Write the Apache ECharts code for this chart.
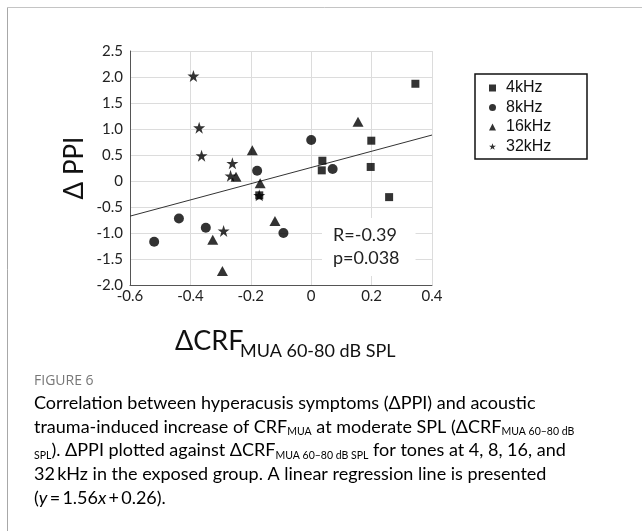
<!DOCTYPE html>
<html>
<head>
<meta charset="utf-8">
<script src="https://cdn.jsdelivr.net/npm/echarts@6/dist/echarts.min.js"></script>
<style>
html,body{margin:0;padding:0;background:#fff;}
#chart{width:642px;height:531px;}
</style>
</head>
<body>
<div id="chart"></div>
<script>
// ---- data ----
const seriesNames = ['4kHz', '8kHz', '16kHz', '32kHz'];
const data4k = [[0.345, 1.87], [0.199, 0.775], [0.037, 0.39], [0.035, 0.205], [0.197, 0.27], [0.258, -0.31], [-0.172, -0.276]];
const data8k = [[0.0, 0.79], [-0.179, 0.198], [0.071, 0.23], [-0.438, -0.72], [-0.349, -0.90], [-0.52, -1.167], [-0.092, -1.0]];
const data16k = [[0.155, 1.14], [-0.195, 0.59], [-0.249, 0.083], [-0.169, -0.045], [-0.326, -1.13], [-0.294, -1.73], [-0.12, -0.77]];
const data32k = [[-0.39, 2.02], [-0.371, 1.025], [-0.363, 0.487], [-0.261, 0.34], [-0.267, 0.10], [-0.29, -0.96], [-0.172, -0.276]];
const regression = { slope: 1.56, intercept: 0.26 };
const xTickLabels = ['-0.6', '-0.4', '-0.2', '0', '0.2', '0.4'];
const yTickLabels = ['-2.0', '-1.5', '-1.0', '-0.5', '0', '0.5', '1.0', '1.5', '2.0', '2.5'];
const statsText = ['R=-0.39', 'p=0.038'];

const xMin = -0.6, xMax = 0.4, xStep = 0.2;
const yMin = -2.0, yMax = 2.5, yStep = 0.5;

const starPath = 'path://M50,0 L61.8,35.1 L98.9,35.1 L69,56.9 L80.2,91.9 L50,70.2 L19.8,91.9 L31,56.9 L1.1,35.1 L38.2,35.1 Z';
const symbols = ['rect', 'circle', 'triangle', starPath];
const sizes = [8, 10, [11, 10], 12];
const allData = [data4k, data8k, data16k, data32k];

const regLine = [xMin, xMax].map(x => [x, regression.slope * x + regression.intercept]);

const chart = echarts.init(document.getElementById('chart'), null, { renderer: 'canvas' });

const capFont = 'Lato, sans-serif';
const capColor = '#666';
const capSize = 18;
const capRich = {
  n: { fontFamily: capFont, fontSize: capSize, color: capColor },
  i: { fontFamily: capFont, fontSize: capSize, color: capColor, fontStyle: 'italic' },
  s: { fontFamily: capFont, fontSize: 10.5, color: capColor, padding: [10, 0, 0, 0] }
};
const capLines = [
  '{n|Correlation between hyperacusis symptoms (ΔPPI) and acoustic}',
  '{n|trauma-induced increase of CRF}{s|MUA}{n| at moderate SPL (ΔCRF}{s|MUA 60–80 dB}',
  '{s|SPL}{n|). ΔPPI plotted against ΔCRF}{s|MUA 60–80 dB SPL}{n| for tones at 4, 8, 16, and}',
  '{n|32\u2009kHz in the exposed group. A linear regression line is presented}',
  '{n|(}{i|y}{n|\u2009=\u20091.56}{i|x}{n|\u2009+\u20090.26).}'
];

const graphics = [
  { type: 'line', shape: { x1: 7.5, y1: 7.5, x2: 642, y2: 7.5 }, style: { stroke: '#c4c4c4', lineWidth: 1 }, silent: true },
  { type: 'line', shape: { x1: 7.5, y1: 7.5, x2: 7.5, y2: 531 }, style: { stroke: '#a8a8a8', lineWidth: 1 }, silent: true },
  { type: 'rect', shape: { x: 475, y: 74, width: 112, height: 85 }, style: { fill: 'none', stroke: '#111', lineWidth: 1.5 }, silent: true, z: 10 },
  {
    type: 'text', left: 322, top: 218, z: 10,
    style: {
      text: statsText.join('\n'), fontFamily: 'Lato, sans-serif', fontSize: 18, lineHeight: 23,
      fill: '#222', backgroundColor: '#fff', padding: [6, 16, 6, 11]
    }
  },
  {
    type: 'text', x: 175, y: 341, z: 10,
    style: { text: 'ΔCRF', fontFamily: 'Lato, sans-serif', fontSize: 27, fill: '#111', verticalAlign: 'middle', align: 'left' }
  },
  {
    type: 'text', x: 240, y: 351, z: 10,
    style: { text: 'MUA 60-80 dB SPL', fontFamily: 'Lato, sans-serif', fontSize: 18, fill: '#111', verticalAlign: 'middle', align: 'left' }
  },
  {
    type: 'text', x: 34, y: 381, z: 10,
    style: { text: 'FIGURE 6', fontFamily: '"Open Sans", sans-serif', fontSize: 14, fill: '#777', verticalAlign: 'middle', align: 'left' }
  }
];
capLines.forEach((t, k) => {
  graphics.push({
    type: 'text', x: 34, y: 403 + k * 23.8, z: 10,
    style: { text: t, rich: capRich, verticalAlign: 'middle', align: 'left' }
  });
});

const series = allData.map((d, k) => ({
  name: seriesNames[k],
  type: 'scatter',
  data: d,
  symbol: symbols[k],
  symbolSize: sizes[k],
  itemStyle: { color: '#000' },
  z: 3 + k
}));
series.unshift({
  name: 'regression',
  type: 'line',
  data: regLine,
  showSymbol: false,
  symbol: 'none',
  lineStyle: { color: '#333', width: 1 },
  z: 2,
  silent: true
});

chart.setOption({
  animation: false,
  backgroundColor: '#fff',
  grid: { left: 130, top: 51, right: 210, bottom: 246, containLabel: false },
  xAxis: {
    type: 'value', min: xMin, max: xMax, interval: xStep,
    axisLine: { show: true, onZero: false, lineStyle: { color: '#555', width: 1 } },
    axisTick: { show: false },
    splitLine: { show: true, lineStyle: { color: '#dcdcdc', width: 1 } },
    axisLabel: {
      margin: 4, fontFamily: 'Lato, sans-serif', fontSize: 15, color: '#222',
      formatter: v => xTickLabels[Math.round((v - xMin) / xStep)]
    }
  },
  yAxis: {
    type: 'value', min: yMin, max: yMax, interval: yStep,
    name: 'Δ PPI', nameLocation: 'middle', nameRotate: 90, nameGap: 42,
    nameTextStyle: { fontFamily: 'Lato, sans-serif', fontSize: 26, color: '#111' },
    axisLine: { show: true, onZero: false, lineStyle: { color: '#555', width: 1 } },
    axisTick: { show: false },
    splitLine: { show: true, lineStyle: { color: '#dcdcdc', width: 1 } },
    axisLabel: {
      margin: 7, fontFamily: 'Lato, sans-serif', fontSize: 15, color: '#222',
      formatter: v => yTickLabels[Math.round((v - yMin) / yStep)]
    }
  },
  legend: {
    data: seriesNames,
    orient: 'vertical',
    left: 475, top: 75,
    borderWidth: 0,
    padding: [5, 20, 5, 14],
    itemGap: 3.5,
    itemWidth: 7, itemHeight: 7,
    textStyle: { fontFamily: '"Liberation Sans", Arial, sans-serif', fontSize: 16, color: '#111', lineHeight: 16, padding: [0, 0, 0, 5] }
  },
  graphic: graphics,
  series: series
});
</script>
</body>
</html>
